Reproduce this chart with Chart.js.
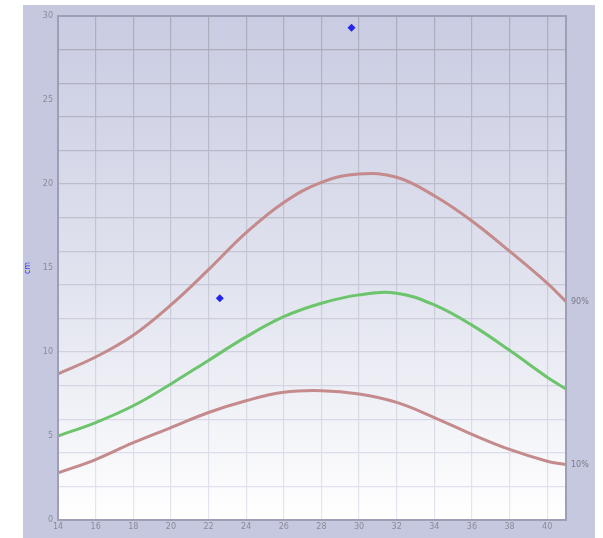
<!DOCTYPE html>
<html>
<head>
<meta charset="utf-8">
<script src="https://cdn.jsdelivr.net/npm/chart.js@4/dist/chart.umd.min.js"></script>
<style>
  html, body { margin: 0; padding: 0; background: #ffffff; }
  #wrap { width: 603px; height: 538px; position: relative; }
</style>
</head>
<body>
<div id="wrap"><canvas id="myChart"></canvas></div>
<script>
// gestational weeks and fundal height percentiles (cm)
const weeks = [14, 16, 18, 20, 22, 24, 26, 28, 30, 32, 34, 36, 38, 40, 41];
const p90 = [8.7, 9.7, 11.0, 12.8, 14.9, 17.1, 18.9, 20.1, 20.6, 20.4, 19.3, 17.8, 16.0, 14.1, 13.0];
const p50 = [5.0, 5.8, 6.8, 8.1, 9.5, 10.9, 12.1, 12.9, 13.4, 13.5, 12.8, 11.6, 10.1, 8.5, 7.8];
const p10 = [2.8, 3.6, 4.6, 5.5, 6.4, 7.1, 7.6, 7.7, 7.5, 7.0, 6.1, 5.1, 4.2, 3.5, 3.3];
// measured points
const measWeeks = [22.6, 29.6];
const measValues = [13.2, 29.3];
const curveLabels = ['90%', '10%'];

function toPoints (xs, ys) {
  return xs.map((x, i) => ({ x: x, y: ys[i] }));
}

/**
 * draws the lavender panel behind everything and the gradient plot area
 */
const panelPlugin = {
  id: 'panel',
  beforeDraw (chart) {
    const ctx = chart.ctx;
    const a = chart.chartArea;
    ctx.save();
    ctx.fillStyle = '#c5c8df';
    ctx.fillRect(23, 5, 572, 533);
    const g = ctx.createLinearGradient(0, a.top, 0, a.bottom);
    g.addColorStop(0, '#c9cce2');
    g.addColorStop(0.55, '#e2e4ef');
    g.addColorStop(1, '#ffffff');
    ctx.fillStyle = g;
    ctx.fillRect(a.left, a.top, a.right - a.left, a.bottom - a.top);
    ctx.restore();
  },
  afterDatasetsDraw (chart) {
    const ctx = chart.ctx;
    const a = chart.chartArea;
    ctx.save();
    ctx.strokeStyle = '#9c9fb5';
    ctx.lineWidth = 2;
    ctx.strokeRect(a.left, a.top, a.right - a.left, a.bottom - a.top);
    // percentile names next to the curve ends
    const xs = chart.scales.x;
    const ys = chart.scales.y;
    ctx.fillStyle = '#7a7a88';
    ctx.font = '8px "DejaVu Sans"';
    ctx.textBaseline = 'middle';
    const last = weeks.length - 1;
    ctx.fillText(curveLabels[0], xs.getPixelForValue(weeks[last]) + 5, ys.getPixelForValue(p90[last]));
    ctx.fillText(curveLabels[1], xs.getPixelForValue(weeks[last]) + 5, ys.getPixelForValue(p10[last]));
    ctx.restore();
  }
};

function gridShade (v) {
  // darker lines near the top, lighter towards the bottom
  const t = v / 30;
  const c = Math.round(228 - 60 * t);
  return 'rgb(' + c + ',' + c + ',' + (c + 14) + ')';
}

let vGrad = null;
function verticalGridColor (c) {
  const a = c.chart.chartArea;
  if (!a) return '#cccfdc';
  if (!vGrad) {
    vGrad = c.chart.ctx.createLinearGradient(0, a.top, 0, a.bottom);
    vGrad.addColorStop(0, 'rgb(170,172,188)');
    vGrad.addColorStop(1, 'rgb(230,230,240)');
  }
  return vGrad;
}

const data = {
  datasets: [
    {
      label: '90%',
      data: toPoints(weeks, p90),
      borderColor: '#c48a8c',
      borderWidth: 3,
      pointRadius: 0,
      tension: 0.4
    },
    {
      label: '50%',
      data: toPoints(weeks, p50),
      borderColor: '#6cc46c',
      borderWidth: 3,
      pointRadius: 0,
      tension: 0.4
    },
    {
      label: '10%',
      data: toPoints(weeks, p10),
      borderColor: '#c48a8c',
      borderWidth: 3,
      pointRadius: 0,
      tension: 0.4
    },
    {
      label: 'measured',
      data: toPoints(measWeeks, measValues),
      showLine: false,
      pointStyle: 'rectRot',
      pointRadius: 4,
      backgroundColor: '#2424f0',
      borderColor: '#2424f0',
      borderWidth: 0
    }
  ]
};

const config = {
  type: 'line',
  data,
  plugins: [panelPlugin],
  options: {
    responsive: true,
    maintainAspectRatio: false,
    animation: false,
    layout: { padding: { left: 23, top: 16, right: 37, bottom: 0 } },
    plugins: {
      legend: { display: false },
      tooltip: { enabled: false }
    },
    scales: {
      x: {
        type: 'linear',
        min: 14,
        max: 41,
        afterFit: (scale) => { scale.height = 18; },
        ticks: {
          stepSize: 2,
          includeBounds: false,
          autoSkip: false,
          maxRotation: 0,
          padding: 2,
          color: '#8a8a98',
          font: { size: 8, family: 'DejaVu Sans' }
        },
        grid: { color: verticalGridColor, lineWidth: 1.2, drawTicks: false },
        border: { display: false }
      },
      y: {
        min: 0,
        max: 30,
        afterFit: (scale) => { scale.width = 35; },
        title: {
          display: true,
          text: 'cm',
          color: '#3a3aee',
          padding: 0,
          font: { size: 8, family: 'DejaVu Sans' }
        },
        ticks: {
          stepSize: 1,
          autoSkip: false,
          padding: 5,
          color: '#8a8a98',
          font: { size: 8, family: 'DejaVu Sans' },
          callback: (v) => (v % 5 === 0 ? v : '')
        },
        grid: {
          drawTicks: false,
          lineWidth: 1.2,
          color: (c) => (c.tick && c.tick.value % 2 === 0 ? gridShade(c.tick.value) : 'transparent')
        },
        border: { display: false }
      }
    }
  }
};

const myChart = new Chart(document.getElementById('myChart'), config);
</script>
</body>
</html>
